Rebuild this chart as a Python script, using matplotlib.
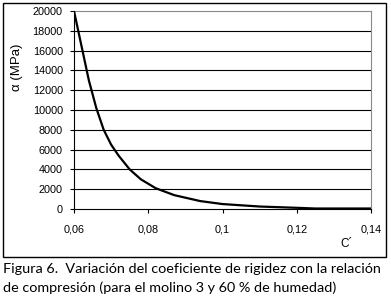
import matplotlib
matplotlib.use("Agg")
import matplotlib.pyplot as plt
from matplotlib.patches import Rectangle

C = [0.06, 0.062, 0.064, 0.066, 0.068, 0.07, 0.072, 0.075, 0.078, 0.082,
     0.087, 0.094, 0.1, 0.11, 0.12, 0.125, 0.13, 0.14]
alpha = [20000, 16500, 13000, 10200, 8000, 6500, 5400, 4000, 3000, 2100,
         1400, 800, 500, 250, 120, 50, 50, 50]
xticks = [0.06, 0.08, 0.1, 0.12, 0.14]
xticklabels = ["0,06", "0,08", "0,1", "0,12", "0,14"]
yticks = list(range(0, 20001, 2000))

W, H = 391, 297
fig = plt.figure(figsize=(W / 100, H / 100), dpi=100)

def fx(px):
    return px / W

def fy(py):
    return 1 - py / H

# outer box
fig.patches.append(Rectangle((fx(3), fy(257)), fx(386) - fx(3), fy(3) - fy(257),
                             transform=fig.transFigure, fill=False,
                             edgecolor="black", linewidth=1.0))

ax = fig.add_axes([fx(74), fy(209), fx(371) - fx(74), fy(11) - fy(209)])
ax.set_xlim(0.06, 0.14)
ax.set_ylim(0, 20000)
for y in yticks[1:-1]:
    ax.axhline(y, color="black", linewidth=0.8, zorder=1)
ax.plot(C, alpha, color="black", linewidth=1.6, zorder=3, solid_joinstyle="round")

ax.spines["top"].set_color("#8a8a8a")
ax.spines["right"].set_color("#8a8a8a")
ax.spines["left"].set_color("black")
ax.spines["bottom"].set_color("black")
for s in ax.spines.values():
    s.set_linewidth(0.8)

ax.set_xticks(xticks)
ax.set_xticklabels(xticklabels)
ax.set_yticks(yticks)
ax.set_yticklabels([str(v) for v in yticks])
ax.tick_params(direction="out", length=3, width=0.8, colors="black",
               labelsize=7.8)
ax.tick_params(axis="x", pad=8)
ax.tick_params(axis="y", pad=5)
for lab in ax.get_xticklabels() + ax.get_yticklabels():
    lab.set_fontfamily("Liberation Sans")

fig.text(fx(17), fy(67), "α (MPa)", rotation=90, ha="center", va="center",
         fontsize=9.5, family="Liberation Sans")
fig.text(fx(347), fy(244), "C´", ha="center", va="center",
         fontsize=8.5, family="Liberation Sans")

fig.text(fx(3), fy(269), "Figura 6.  Variación del coeficiente de rigidez con la relación",
         ha="left", va="center", fontsize=10.4, family="Lato")
fig.text(fx(3), fy(288), "de compresión (para el molino 3 y 60 % de humedad)",
         ha="left", va="center", fontsize=10.4, family="Lato")

fig.savefig("out.png", dpi=100)
